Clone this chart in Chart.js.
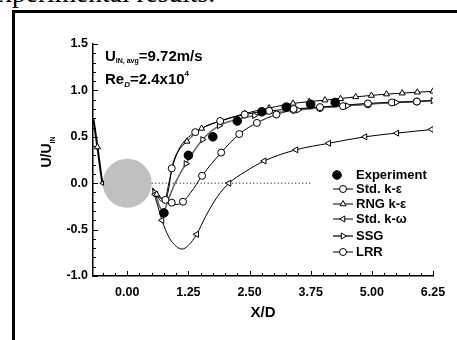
<!DOCTYPE html>
<html>
<head>
<meta charset="utf-8">
<script src="https://cdn.jsdelivr.net/npm/chart.js@4/dist/chart.umd.min.js"></script>
<style>
  body { margin: 0; background: #fff; width: 457px; height: 340px; overflow: hidden; position: relative; }
  #caption { position: absolute; left: -14px; top: -21px; font: 27.5px/27.5px "Liberation Serif", "Times New Roman", serif; color: #000; white-space: nowrap; }
  #frame { position: absolute; left: 12px; top: 10px; width: 520px; height: 400px; border: 3px solid #000; }
  #chart { position: absolute; left: 0; top: 0; }
</style>
</head>
<body>
<div id="caption">experimental results.</div>
<div id="frame"></div>
<canvas id="chart" width="457" height="340"></canvas>
<script>
// axis ticks
const xTicks = [0, 1.25, 2.5, 3.75, 5, 6.25];
const xTickLabels = ["0.00", "1.25", "2.50", "3.75", "5.00", "6.25"];
const yTicks = [-1, -0.5, 0, 0.5, 1, 1.5];
const yTickLabels = ["-1.0", "-0.5", "0.0", "0.5", "1.0", "1.5"];

// cylinder (X/D units) and y=0 reference line
const cylinderX = 0;
const cylinderR = 0.5;
const zeroLine = [[0.5, 0], [3.75, 0]];

// measured data
const expX = [0.75, 1.25, 1.75, 2.25, 2.75, 3.25, 3.75, 4.25];
const expY = [-0.32, 0.30, 0.50, 0.67, 0.77, 0.82, 0.85, 0.87];

// upstream of the cylinder, all models on top of each other
const upstreamLine = [[-0.69, 0.69], [-0.61, 0.39], [-0.51, 0.0]];
const upstreamMarks = [[-0.61, 0.39]];
const upstreamEnd = [[-0.51, 0.0]];

// Std. k-eps (circles)
const stdKeLine = [[0.52, -0.05], [0.62, -0.13], [0.70, -0.17], [0.78, -0.18], [0.85, -0.05], [0.91, 0.16],
  [1.05, 0.36], [1.20, 0.47], [1.39, 0.55], [1.60, 0.61], [1.90, 0.67], [2.40, 0.74], [2.90, 0.78],
  [3.40, 0.80], [3.94, 0.82], [4.41, 0.84], [4.92, 0.86], [5.41, 0.87], [5.92, 0.88], [6.25, 0.89]];
const stdKeMarks = [[0.78, -0.18], [0.91, 0.16], [1.39, 0.55], [1.90, 0.67], [2.40, 0.74], [2.90, 0.78],
  [3.40, 0.80], [3.94, 0.82], [4.92, 0.86], [5.92, 0.88]];

// RNG k-eps (up triangles)
const rngLine = [[0.52, -0.05], [0.60, -0.12], [0.68, -0.19], [0.76, -0.20], [0.85, 0.0], [0.95, 0.22],
  [1.05, 0.35], [1.22, 0.45], [1.52, 0.59], [1.90, 0.67], [2.40, 0.75], [2.90, 0.81], [3.39, 0.86],
  [4.04, 0.895], [4.67, 0.93], [5.30, 0.96], [5.93, 0.98], [6.25, 0.99]];
const rngMarks = [[0.60, -0.12], [1.22, 0.45], [1.52, 0.59], [1.90, 0.67], [2.40, 0.75], [2.90, 0.81],
  [3.39, 0.86], [3.72, 0.88], [4.04, 0.895], [4.36, 0.91], [4.67, 0.93], [4.99, 0.945], [5.30, 0.96],
  [5.62, 0.97], [5.93, 0.98], [6.25, 0.99]];

// Std. k-omega (left triangles)
const kwLine = [[0.52, -0.06], [0.60, -0.20], [0.71, -0.40], [0.85, -0.58], [1.00, -0.68], [1.12, -0.71],
  [1.25, -0.67], [1.42, -0.55], [1.60, -0.36], [1.85, -0.14], [2.08, 0.0], [2.40, 0.12], [2.80, 0.24],
  [3.45, 0.36], [4.12, 0.43], [4.86, 0.50], [5.51, 0.54], [6.25, 0.58]];
const kwMarks = [[0.57, -0.12], [0.71, -0.40], [1.42, -0.55], [2.08, 0.0], [2.80, 0.24], [3.45, 0.36],
  [4.12, 0.43], [4.86, 0.50], [5.51, 0.54], [6.22, 0.58]];

// SSG (right triangles)
const ssgLine = [[0.52, -0.06], [0.58, -0.12], [0.66, -0.25], [0.74, -0.30], [0.85, -0.16], [0.98, 0.0],
  [1.20, 0.21], [1.54, 0.47], [1.88, 0.62], [2.20, 0.68], [2.60, 0.73], [3.00, 0.76], [3.50, 0.79],
  [4.00, 0.815], [4.50, 0.835], [5.00, 0.855], [5.50, 0.87], [6.25, 0.89]];
const ssgMarks = [[0.56, -0.10], [1.20, 0.21], [1.54, 0.47], [1.88, 0.62], [2.60, 0.73], [3.50, 0.79],
  [4.50, 0.835], [5.50, 0.87], [6.25, 0.89]];

// LRR (circles)
const lrrLine = [[0.52, -0.06], [0.62, -0.12], [0.75, -0.18], [0.88, -0.22], [1.00, -0.23], [1.14, -0.20],
  [1.30, -0.10], [1.53, 0.08], [1.92, 0.33], [2.29, 0.53], [2.65, 0.65], [3.05, 0.74], [3.40, 0.79],
  [3.94, 0.81], [4.41, 0.83], [4.92, 0.85], [5.41, 0.87], [5.92, 0.88], [6.25, 0.895]];
const lrrMarks = [[0.91, -0.21], [1.14, -0.20], [1.53, 0.08], [1.92, 0.33], [2.29, 0.53], [2.65, 0.65],
  [3.05, 0.74], [3.40, 0.79], [3.94, 0.81], [4.41, 0.83], [4.92, 0.85], [5.41, 0.87], [5.92, 0.88]];

const legendLabels = ["Experiment", "Std. k-\u03b5", "RNG k-\u03b5", "Std. k-\u03c9", "SSG", "LRR"];

const FONT = '"Liberation Sans", Arial, Helvetica, sans-serif';
const pts = (arr) => arr.map(([x, y]) => ({ x, y }));

const lineSet = (arr, color, width) => ({
  data: pts(arr), borderColor: color || "#000", borderWidth: width || 1,
  pointRadius: 0, cubicInterpolationMode: "monotone", fill: false, order: 2
});
const markSet = (arr, style, rotation, radius) => ({
  data: pts(arr), showLine: false, pointStyle: style, rotation: rotation || 0,
  pointRadius: radius || 3.5, pointBackgroundColor: "#fff", pointBorderColor: "#000", pointBorderWidth: 1, order: 1
});

// legend styles, same order as legendLabels
const legendMarks = [
  { style: "circle", rot: 0, filled: true },
  { style: "circle", rot: 0 },
  { style: "triangle", rot: 0 },
  { style: "triangle", rot: -90 },
  { style: "triangle", rot: 90, gray: true },
  { style: "circle", rot: 0 }
];
const legendRows = [179, 193, 208, 223, 240, 256];

const datasets = [
  lineSet(zeroLine),
  lineSet(upstreamLine, "#000", 2),
  lineSet(stdKeLine),
  lineSet(rngLine),
  lineSet(kwLine),
  lineSet(ssgLine, "#666", 1.5),
  lineSet(lrrLine),
  markSet(upstreamMarks, "triangle"),
  markSet(upstreamEnd, "triangle", -90, 2.5),
  markSet(stdKeMarks, "circle"),
  markSet(rngMarks, "triangle"),
  markSet(kwMarks, "triangle", -90),
  markSet(ssgMarks, "triangle", 90),
  markSet(lrrMarks, "circle"),
  {
    data: expX.map((x, i) => ({ x, y: expY[i] })), showLine: false, pointStyle: "circle",
    pointRadius: 4.3, pointBackgroundColor: "#000", pointBorderColor: "#000", order: 0
  }
];
datasets[0].borderDash = [1, 2.5];
datasets[0].cubicInterpolationMode = "default";

function drawParts(ctx, parts, x, y) {
  for (const [t, size, dy, italic] of parts) {
    ctx.font = (italic ? "italic " : "") + "bold " + size + "px " + FONT;
    ctx.fillText(t, x, y + dy);
    x += ctx.measureText(t).width;
  }
  return x;
}
function partsWidth(ctx, parts) {
  let w = 0;
  for (const [t, size, dy, italic] of parts) {
    ctx.font = (italic ? "italic " : "") + "bold " + size + "px " + FONT;
    w += ctx.measureText(t).width;
  }
  return w;
}

const decor = {
  id: "decor",
  beforeDatasetsDraw(chart) {
    const { ctx, scales: { x, y } } = chart;
    const cx = x.getPixelForValue(cylinderX);
    const cy = y.getPixelForValue(0);
    const r = x.getPixelForValue(cylinderX + cylinderR) - cx;
    ctx.save();
    ctx.fillStyle = "#c0c0c0";
    ctx.beginPath();
    ctx.arc(cx, cy, r, 0, Math.PI * 2);
    ctx.fill();
    ctx.restore();
  },
  afterDraw(chart) {
    const { ctx, chartArea: a, scales: { x, y } } = chart;
    ctx.save();
    ctx.strokeStyle = "#000";
    ctx.lineWidth = 1;
    ctx.beginPath();
    // inward ticks on x axis, minor every 0.25
    for (let v = -0.5; v <= 6.25001; v += 0.25) {
      const px = Math.round(x.getPixelForValue(v)) + 0.5;
      const major = Math.abs(v / 1.25 - Math.round(v / 1.25)) < 1e-6;
      ctx.moveTo(px, a.bottom);
      ctx.lineTo(px, a.bottom - (major ? 5 : 3));
    }
    // inward ticks on y axis, minor every 0.1
    for (let i = -10; i <= 15; i++) {
      const py = Math.round(y.getPixelForValue(i / 10)) + 0.5;
      const major = i % 5 === 0;
      ctx.moveTo(a.left, py);
      ctx.lineTo(a.left + (major ? 5 : 3), py);
    }
    ctx.stroke();

    ctx.fillStyle = "#000";
    ctx.textBaseline = "alphabetic";
    ctx.textAlign = "left";
    // annotation
    drawParts(ctx, [["U", 15, 0], ["IN, avg", 7, 2], ["=9.72m/s", 15, 0]], 105, 61);
    drawParts(ctx, [["Re", 15, 0], ["D", 8, 3, true], ["=2.4x10", 15, 0], ["4", 8, -8]], 105, 84);

    // axis titles
    ctx.font = "bold 15px " + FONT;
    ctx.textAlign = "center";
    ctx.fillText("X/D", (a.left + a.right) / 2, 317);
    ctx.textAlign = "left";
    const yt = [["U/U", 14, 0], ["IN", 7, 4]];
    const w = partsWidth(ctx, yt);
    ctx.save();
    ctx.translate(51, 152);
    ctx.rotate(-Math.PI / 2);
    drawParts(ctx, yt, -w / 2, 0);
    ctx.restore();

    // legend
    legendLabels.forEach((label, i) => {
      const m = legendMarks[i];
      const ly = legendRows[i];
      const my = ly - 4;
      if (!m.filled) {
        ctx.strokeStyle = m.gray ? "#666" : "#000";
        ctx.lineWidth = m.gray ? 2 : 1;
        ctx.beginPath();
        ctx.moveTo(333, my);
        ctx.lineTo(353, my);
        ctx.stroke();
      }
      ctx.fillStyle = m.filled ? "#000" : "#fff";
      ctx.strokeStyle = "#000";
      ctx.lineWidth = 1;
      Chart.helpers.drawPoint(ctx, {
        pointStyle: m.style, rotation: m.rot, radius: m.filled ? 4.3 : 3.5, borderWidth: 1
      }, m.filled ? 337 : 343, my);
      ctx.fillStyle = "#000";
      ctx.font = "bold 13px " + FONT;
      ctx.fillText(label, 356, ly);
    });
    ctx.restore();
  }
};

new Chart(document.getElementById("chart"), {
  type: "line",
  data: { datasets },
  options: {
    responsive: false,
    animation: false,
    devicePixelRatio: 1,
    layout: { padding: { left: 0, right: 24, top: 44, bottom: 0 } },
    plugins: { legend: { display: false }, tooltip: { enabled: false } },
    scales: {
      x: {
        type: "linear", min: -0.7, max: 6.25,
        grid: { display: false, drawTicks: false },
        border: { display: true, color: "#000", width: 1.5 },
        ticks: {
          padding: 9, color: "#000", font: { family: FONT, size: 12.5, weight: "bold" },
          maxRotation: 0, callback: (v) => xTickLabels[xTicks.indexOf(v)]
        },
        afterBuildTicks: (s) => { s.ticks = xTicks.map((v) => ({ value: v })); },
        afterFit: (s) => { s.height = 64; }
      },
      y: {
        type: "linear", min: -1, max: 1.5,
        grid: { display: false, drawTicks: false },
        border: { display: true, color: "#000", width: 1.5 },
        ticks: {
          padding: 5, color: "#000", font: { family: FONT, size: 12.5, weight: "bold" },
          callback: (v) => yTickLabels[yTicks.indexOf(v)]
        },
        afterBuildTicks: (s) => { s.ticks = yTicks.map((v) => ({ value: v })); },
        afterFit: (s) => { s.width = 93; }
      }
    }
  },
  plugins: [decor]
});
</script>
</body>
</html>
